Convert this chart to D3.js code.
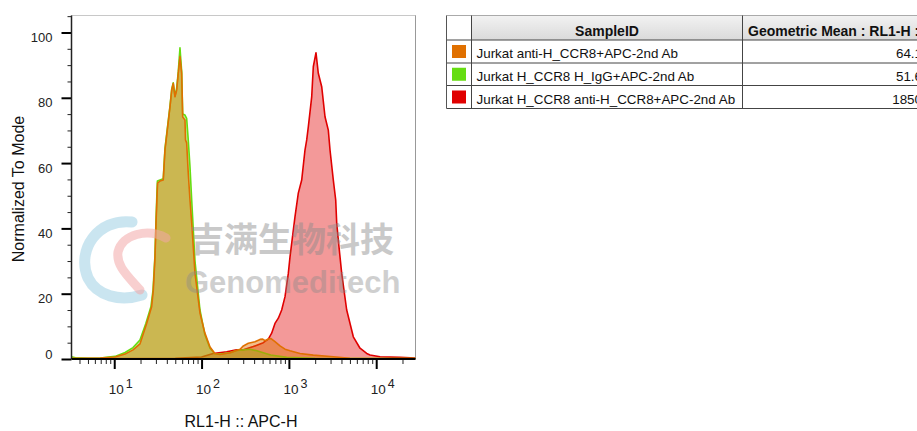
<!DOCTYPE html>
<html>
<head>
<meta charset="utf-8">
<script src="https://cdn.jsdelivr.net/npm/d3@7"></script>
<style>
  body { margin: 0; background: #fff; }
  svg { display: block; font-family: "Liberation Sans", Arial, sans-serif; }
</style>
</head>
<body>
<script>
const width = 917, height = 431;

// histogram points: [RL1-H value, % of mode]
const orangeHist = [[3.24,0.2],[6.9,0.3],[10.2,0.6],[13.3,1.5],[16.4,2.8],[19.7,4.6],[23.5,10.9],[26.8,16.0],[28.0,21.1],[29.3,31.3],[30.1,41.7],[31.1,51.8],[31.4,53.9],[33.4,54.5],[36.4,54.8],[38.1,64.0],[43.5,77.2],[45.5,82.4],[47.4,84.4],[49.6,80.3],[51.9,82.4],[54.1,87.5],[56.6,92.6],[59.2,87.5],[60.8,74.1],[64.6,73.2],[65.5,67.1],[67.5,66.2],[70.4,57.0],[73.7,48.7],[77.1,41.7],[84.1,26.3],[95.9,14.1],[109,8.0],[125,3.7],[142,1.7],[163,1.4],[212,1.9],[276,3.0],[301,4.0],[343,4.8],[409,5.3],[467,6.0],[501,6.1],[533,5.6],[581,6.1],[619,6.3],[693,5.3],[791,4.0],[903,3.0],[1030,2.5],[1341,1.7],[1904,1.2],[3227,0.7],[5012,0.2],[28180,0.1]];

const greenHist = [[3.24,0.7],[3.6,0.4],[5,0.2],[6.9,0.3],[10.2,0.8],[13.3,2.0],[16.4,3.5],[19.7,5.8],[23.0,10.9],[26.3,16.0],[27.8,21.1],[29.2,31.3],[30.0,41.7],[30.9,51.8],[31.2,54.5],[33.4,54.8],[36.4,55.2],[38.1,64.5],[43.5,77.5],[45.5,82.6],[47.4,84.6],[49.6,80.5],[51.9,83.0],[54.1,88.0],[56.6,95.3],[59.2,88.0],[60.8,75.0],[64.6,74.7],[67.5,73.7],[70.4,67.1],[73.7,58.9],[77.1,48.7],[84.1,30.0],[95.9,15.0],[109,7.5],[125,3.3],[142,1.6],[163,1.5],[212,1.9],[252,2.6],[301,2.8],[358,3.0],[430,2.5],[509,1.9],[619,1.2],[944,0.5],[2000,0.2],[28180,0.1]];

const redHist = [[3.24,0.1],[50,0.2],[100,0.6],[136,1.7],[194,2.2],[252,2.8],[301,2.8],[391,3.8],[509,5.0],[581,6.1],[635,7.9],[693,10.9],[757,12.5],[827,15.0],[903,19.1],[985,26.2],[1030,31.3],[1175,43.6],[1282,50.8],[1402,54.8],[1529,64.0],[1600,67.1],[1669,71.1],[1825,80.3],[1904,89.5],[2044,93.8],[2172,87.5],[2376,83.4],[2592,74.2],[2828,70.1],[2958,64.0],[3227,54.8],[3437,48.7],[3529,41.6],[3681,36.4],[4026,26.2],[4593,15.0],[5469,6.8],[6525,3.3],[7786,1.7],[8495,1.2],[11060,0.7],[18740,0.5],[28180,0.3]];

const sampleNames = ["Jurkat anti-H_CCR8+APC-2nd Ab", "Jurkat H_CCR8 H_IgG+APC-2nd Ab", "Jurkat H_CCR8 anti-H_CCR8+APC-2nd Ab"];
const geoMeans = ["64.1", "51.6", "1850"];
const sampleColors = ["#e07000", "#66dd11", "#e00000"];

const yMajor = [0, 20, 40, 60, 80, 100];
const xMajor = [10, 100, 1000, 10000];
const xExp = ["1", "2", "3", "4"];

const svg = d3.select("body").append("svg")
  .attr("width", width)
  .attr("height", height);

const x = d3.scaleLog().domain([3.24, 28180]).range([71.5, 415.5]);
const y = d3.scaleLinear().domain([0, 105.2]).range([359, 15.5]);

svg.append("clipPath").attr("id", "plot")
  .append("rect").attr("x", 71.5).attr("y", 15.5).attr("width", 344).attr("height", 343.5);

// frame
svg.append("rect")
  .attr("x", 71.5).attr("y", 15.5).attr("width", 344).attr("height", 343.5)
  .attr("fill", "none").attr("stroke", "#c8c8c8");
svg.append("line").attr("x1", 415.5).attr("x2", 415.5).attr("y1", 15.5).attr("y2", 359)
  .attr("stroke", "#999");

// histograms: red, green, orange (orange on top)
const area = d3.area()
  .x(d => x(d[0]))
  .y0(y(0))
  .y1(d => y(d[1]));
const line = d3.line()
  .x(d => x(d[0]))
  .y(d => y(d[1]));

const layers = [
  { data: redHist, color: sampleColors[2], op: 0.4 },
  { data: greenHist, color: sampleColors[1], op: 0.45 },
  { data: orangeHist, color: sampleColors[0], op: 0.45 }
];
const plot = svg.append("g").attr("clip-path", "url(#plot)");
layers.forEach(l => {
  plot.append("path").datum(l.data).attr("d", area)
    .attr("fill", l.color).attr("fill-opacity", l.op);
  plot.append("path").datum(l.data).attr("d", line)
    .attr("fill", "none").attr("stroke", l.color).attr("stroke-width", 1.6)
    .attr("stroke-linejoin", "round");
});

// y axis
const yMinor = d3.range(5, 106, 5).filter(v => v % 20 !== 0);
svg.append("g")
  .attr("transform", "translate(71.5,0)")
  .call(d3.axisLeft(y).tickValues(yMinor).tickSize(4).tickSizeOuter(0).tickFormat(""))
  .call(g => g.select(".domain").remove())
  .selectAll("line").attr("stroke", "#222");

const yAxis = svg.append("g")
  .attr("transform", "translate(71.5,0)")
  .call(d3.axisLeft(y).tickValues(yMajor).tickSize(10).tickPadding(9).tickSizeOuter(0))
  .call(g => g.select(".domain").remove());
yAxis.selectAll("line").attr("stroke", "#000").attr("stroke-width", 2);
yAxis.selectAll("text")
  .attr("fill", "#222")
  .style("font-size", "13px")
  .style("font-family", "Liberation Sans, Arial, sans-serif")
  .attr("dy", d => d === 0 ? "-0.02em" : "0.7em");

svg.append("line").attr("x1", 71.5).attr("x2", 71.5).attr("y1", 15.5).attr("y2", 359)
  .attr("stroke", "#222").attr("stroke-width", 1.5);

// x axis
const xMinor = [];
for (let e = 0; e <= 4; e++) {
  for (let k = 2; k <= 9; k++) {
    const v = k * Math.pow(10, e);
    if (v > x.domain()[0] && v < x.domain()[1]) xMinor.push(v);
  }
}
svg.append("g")
  .attr("transform", "translate(0,359)")
  .call(d3.axisBottom(x).tickValues(xMinor).tickSize(5).tickSizeOuter(0).tickFormat(""))
  .call(g => g.select(".domain").remove())
  .selectAll("line").attr("stroke", "#222");

const xAxis = svg.append("g")
  .attr("transform", "translate(0,359)")
  .call(d3.axisBottom(x).tickValues(xMajor).tickSize(10).tickSizeOuter(0).tickFormat(""))
  .call(g => g.select(".domain").remove());
xAxis.selectAll("line").attr("stroke", "#000").attr("stroke-width", 2);

svg.append("line").attr("x1", 71.5).attr("x2", 415.5).attr("y1", 359).attr("y2", 359)
  .attr("stroke", "#000").attr("stroke-width", 2);

const xLab = svg.append("g").selectAll("text")
  .data(xMajor)
  .enter()
  .append("text")
  .attr("x", d => x(d) - 5.5)
  .attr("y", 394)
  .attr("fill", "#222")
  .style("font-size", "13.5px");
xLab.append("tspan").text("10");
xLab.append("tspan").attr("dx", 2).attr("dy", -6).style("font-size", "12.5px")
  .text((d, i) => xExp[i]);

// axis titles
svg.append("text")
  .attr("x", 241).attr("y", 427)
  .attr("text-anchor", "middle")
  .attr("fill", "#111")
  .style("font-size", "16px")
  .text("RL1-H :: APC-H");

svg.append("text")
  .attr("transform", "translate(24,189) rotate(-90)")
  .attr("text-anchor", "middle")
  .attr("fill", "#111")
  .style("font-size", "16px")
  .text("Normalized To Mode");

// legend table
const colX = [446.5, 471.5, 742.5, 1000];
const rowY = [15.5, 40, 63, 85.5, 108.5];
const defs = svg.append("defs");
const grad = defs.append("linearGradient").attr("id", "hdr").attr("x1", 0).attr("x2", 0).attr("y1", 0).attr("y2", 1);
grad.append("stop").attr("offset", "0%").attr("stop-color", "#f2f2f2");
grad.append("stop").attr("offset", "100%").attr("stop-color", "#dadada");

const table = svg.append("g");
table.append("rect")
  .attr("x", colX[1]).attr("y", rowY[0])
  .attr("width", colX[3] - colX[1]).attr("height", rowY[1] - rowY[0])
  .attr("fill", "url(#hdr)");

rowY.forEach(ry => {
  table.append("line").attr("x1", colX[0]).attr("x2", colX[3]).attr("y1", ry).attr("y2", ry)
    .attr("stroke", ry === rowY[0] ? "#aaa" : "#444");
});
colX.slice(0, 3).forEach(cx => {
  table.append("line").attr("x1", cx).attr("x2", cx).attr("y1", rowY[0]).attr("y2", rowY[4])
    .attr("stroke", cx === colX[0] ? "#555" : "#444");
});

table.append("text")
  .attr("x", 607).attr("y", 35.5)
  .attr("text-anchor", "middle")
  .style("font-size", "14px").style("font-weight", "bold")
  .attr("fill", "#111")
  .text("SampleID");
table.append("text")
  .attr("x", 748).attr("y", 35.5)
  .style("font-size", "14px").style("font-weight", "bold")
  .attr("fill", "#111")
  .text("Geometric Mean : RL1-H :: APC-H");

sampleNames.forEach((name, i) => {
  const top = rowY[i + 1], bot = rowY[i + 2];
  table.append("rect")
    .attr("x", 452).attr("y", (top + bot) / 2 - 6.5)
    .attr("width", 14).attr("height", 13)
    .attr("fill", sampleColors[i]);
  table.append("text")
    .attr("x", 476.5).attr("y", bot - 5)
    .style("font-size", "13.4px")
    .attr("fill", "#111")
    .text(name);
  table.append("text")
    .attr("x", 922).attr("y", bot - 5)
    .attr("text-anchor", "end")
    .style("font-size", "13.4px")
    .attr("fill", "#111")
    .text(geoMeans[i]);
});

// watermark
const wm = svg.append("g").attr("pointer-events", "none");
wm.append("path")
  .attr("d", "M 132 222 C 98 218, 76 250, 88 278 C 97 296, 120 302, 142 295")
  .attr("fill", "none").attr("stroke", "#9fd0e4").attr("stroke-width", 11)
  .attr("stroke-linecap", "round").attr("opacity", 0.55);
wm.append("path")
  .attr("d", "M 166 238 C 148 228, 122 234, 118 252 C 116 266, 128 276, 140 290")
  .attr("fill", "none").attr("stroke", "#f2a8a8").attr("stroke-width", 9)
  .attr("stroke-linecap", "round").attr("opacity", 0.55);
wm.append("text")
  .attr("x", 190).attr("y", 252)
  .style("font-family", "Noto Sans CJK SC")
  .style("font-size", "34px").style("font-weight", "bold")
  .attr("fill", "#8a8a8a").attr("opacity", 0.45)
  .text("吉满生物科技");
wm.append("text")
  .attr("x", 185).attr("y", 293)
  .style("font-size", "31px").style("font-weight", "bold")
  .attr("fill", "#8a8a8a").attr("opacity", 0.4)
  .text("Genomeditech");
</script>
</body>
</html>
